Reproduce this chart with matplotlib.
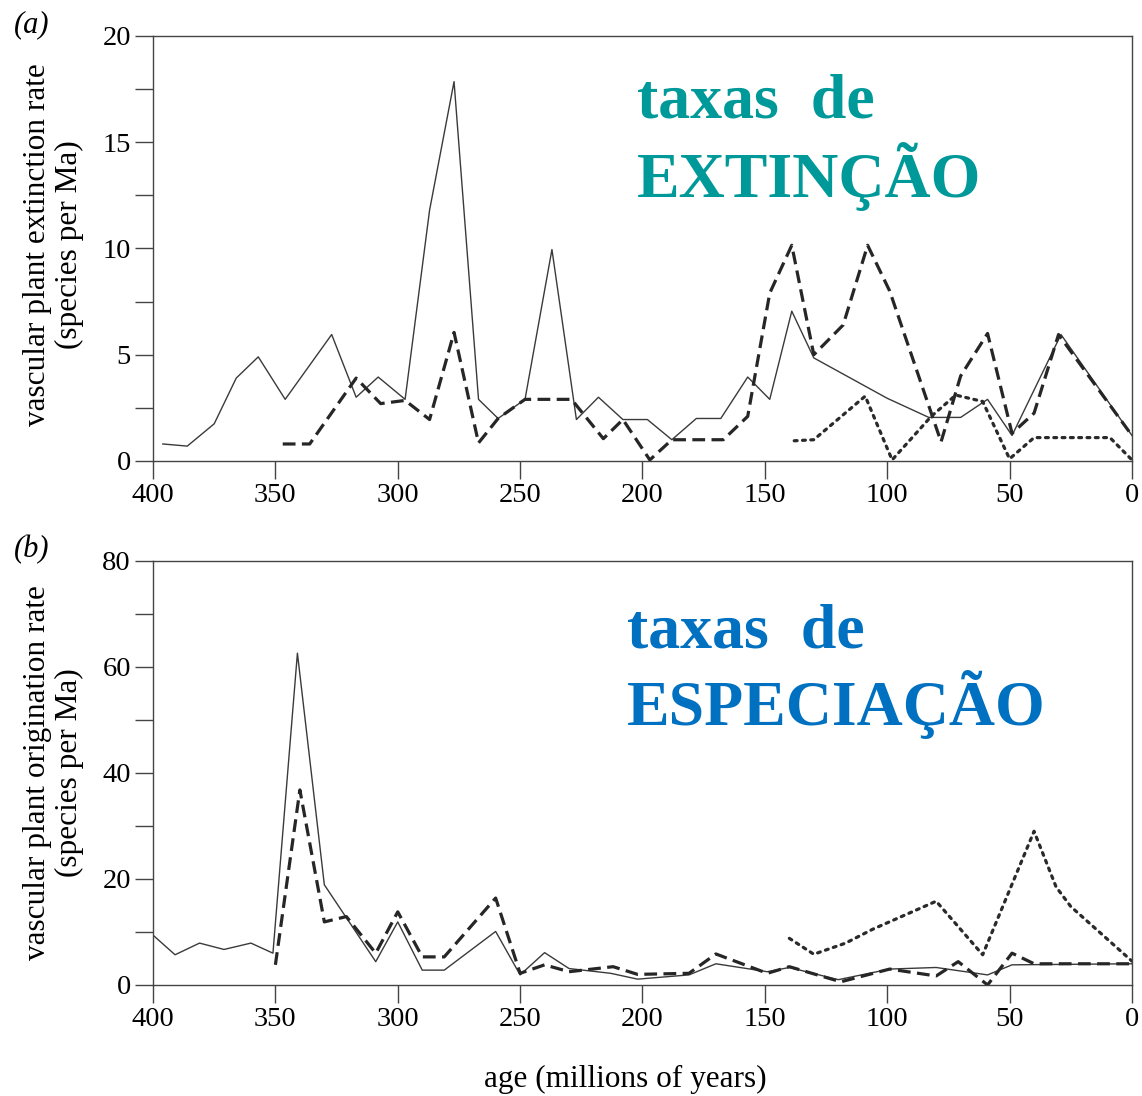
import matplotlib
matplotlib.use("Agg")
import matplotlib.pyplot as plt

# (a) extinction rate, species per Ma
ext_solid_age = [396, 386, 375, 366, 357, 346, 327, 317, 308, 297, 287, 277, 267, 259,
                 248, 237, 227, 218, 208, 198, 188, 178, 168, 157, 148, 139, 130, 100,
                 83, 70, 59, 49, 29, 0]
ext_solid = [0.8, 0.7, 1.75, 3.9, 4.9, 2.9, 5.95, 3.0, 3.95, 2.9, 11.8, 17.85, 2.9, 2.0,
             2.9, 9.95, 1.95, 3.0, 1.95, 1.95, 1.0, 2.0, 2.0, 3.95, 2.9, 7.05, 4.85, 2.95,
             2.05, 2.05, 2.9, 1.2, 5.95, 1.2]

ext_dash_age = [347, 336, 317, 307, 297, 287, 277, 267, 259, 248, 229, 216, 208, 197,
                188, 167, 157, 148, 139, 130, 118, 108, 99, 78, 70, 59, 49, 40, 30, 0]
ext_dash = [0.8, 0.8, 3.9, 2.7, 2.85, 1.95, 6.05, 0.85, 2.0, 2.9, 2.9, 1.05, 1.95, 0.05,
            1.0, 1.0, 2.1, 7.9, 10.15, 5.0, 6.4, 10.15, 8.0, 0.9, 4.0, 6.0, 1.3, 2.25, 5.95, 1.2]

ext_dot_age = [138, 130, 109, 98, 82, 72, 61, 50, 40, 9, 0]
ext_dot = [0.95, 1.0, 3.05, 0.05, 2.1, 3.1, 2.8, 0.1, 1.1, 1.1, 0.05]

# (b) origination rate, species per Ma
ori_solid_age = [400, 391, 381, 371, 360, 351, 341, 330, 309, 300, 290, 281, 260, 250,
                 240, 230, 213, 202, 181, 170, 149, 140, 120, 99, 80, 59, 49, 0]
ori_solid = [9.4, 5.7, 7.9, 6.7, 7.9, 6.0, 62.6, 18.9, 4.4, 11.9, 2.8, 2.8, 10.1, 1.9,
             6.1, 3.1, 2.2, 1.1, 1.9, 4.0, 2.5, 3.3, 1.0, 3.0, 3.3, 1.9, 3.8, 4.0]

ori_dash_age = [350, 340, 330, 321, 309, 300, 290, 281, 260, 250, 240, 230, 212, 202,
                181, 170, 149, 140, 119, 99, 80, 71, 59, 49, 40, 0]
ori_dash = [3.8, 36.8, 11.9, 12.9, 6.0, 13.8, 5.3, 5.3, 16.4, 2.2, 3.8, 2.5, 3.45, 2.0,
            2.2, 5.85, 2.2, 3.45, 0.6, 3.0, 1.7, 4.4, 0.0, 6.0, 4.0, 4.0]

ori_dot_age = [140, 130, 117, 106, 80, 61, 40, 31, 25, 0]
ori_dot = [8.8, 5.8, 7.9, 10.5, 15.8, 5.7, 29.0, 18.5, 14.8, 4.5]

xticks = [400, 350, 300, 250, 200, 150, 100, 50, 0]

plt.rcParams['font.family'] = ['Liberation Serif', 'DejaVu Serif']

fig = plt.figure(figsize=(11.42, 10.96), dpi=100)
ax1 = fig.add_axes([0.134, 0.5794, 0.8572, 0.3878])
ax2 = fig.add_axes([0.134, 0.1013, 0.8572, 0.3869])

solid_kw = dict(color='#3a3a3a', lw=1.0)
dash_kw = dict(color='#262626', lw=2.3, linestyle=(0, (4, 2)))
dot_kw = dict(color='#2a2a2a', lw=2.3, linestyle=(0, (0.9, 1.7)), dash_capstyle='round')

ax1.plot(ext_solid_age, ext_solid, **solid_kw)
ax1.plot(ext_dash_age, ext_dash, **dash_kw)
ax1.plot(ext_dot_age, ext_dot, **dot_kw)

ax2.plot(ori_solid_age, ori_solid, **solid_kw)
ax2.plot(ori_dash_age, ori_dash, **dash_kw)
ax2.plot(ori_dot_age, ori_dot, **dot_kw)

ax1.set_ylim(0, 20)
ax1.set_yticks([0, 5, 10, 15, 20])
ax1.set_yticks([2.5, 7.5, 12.5, 17.5], minor=True)
ax2.set_ylim(0, 80)
ax2.set_yticks([0, 20, 40, 60, 80])
ax2.set_yticks([10, 30, 50, 70], minor=True)

for ax in (ax1, ax2):
    ax.set_xlim(400, 0)
    ax.set_xticks(xticks)
    ax.tick_params(which='both', direction='out', length=13, width=1.0, color='#444444',
                   labelsize=20.5, pad=3)
    for s in ax.spines.values():
        s.set_color('#444444')
        s.set_linewidth(1.0)

ax1.set_ylabel("vascular plant extinction rate\n(species per Ma)", fontsize=22.5,
               linespacing=1.1)
ax2.set_ylabel("vascular plant origination rate\n(species per Ma)", fontsize=22.5,
               linespacing=1.1)
ax1.yaxis.set_label_coords(-0.071, 0.51)
ax2.yaxis.set_label_coords(-0.071, 0.5)

fig.text(14 / 1142, 1 - 32 / 1096, "(a)", fontsize=22, style='italic', va='baseline')
fig.text(14 / 1142, 1 - 557 / 1096, "(b)", fontsize=22, style='italic', va='baseline')
fig.text(625 / 1142, 1 - 1087 / 1096, "age (millions of years)", fontsize=22.5,
         ha='center', va='baseline')

teal = '#00999A'
blue = '#0070C0'
fig.text(637 / 1142, 1 - 118 / 1096, "taxas  de", fontsize=46, fontweight='bold',
         color=teal, va='baseline')
fig.text(637 / 1142, 1 - 197 / 1096, "EXTINÇÃO", fontsize=46, fontweight='bold',
         color=teal, va='baseline')
fig.text(627 / 1142, 1 - 648 / 1096, "taxas  de", fontsize=46, fontweight='bold',
         color=blue, va='baseline')
fig.text(627 / 1142, 1 - 725 / 1096, "ESPECIAÇÃO", fontsize=46, fontweight='bold',
         color=blue, va='baseline')

fig.savefig("out.png", dpi=100)
